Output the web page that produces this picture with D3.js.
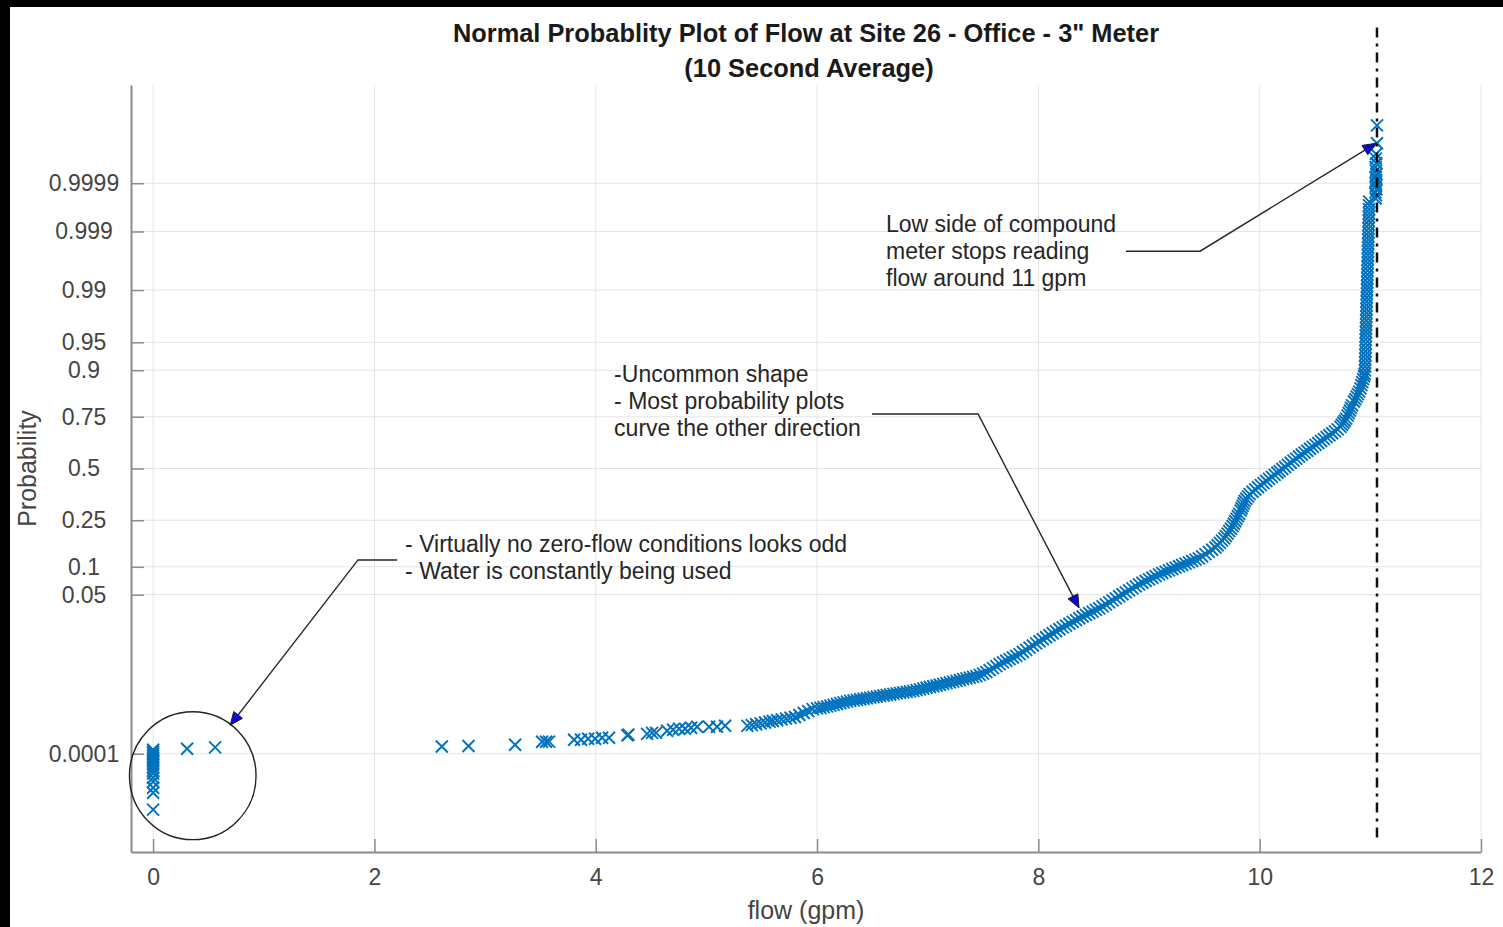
<!DOCTYPE html>
<html>
<head>
<meta charset="utf-8">
<script src="https://cdn.jsdelivr.net/npm/d3@7"></script>
<style>
  html, body { margin: 0; padding: 0; background: #000; }
  svg { display: block; }
  text { font-family: "Liberation Sans", Arial, Helvetica, sans-serif; }
</style>
</head>
<body>
<svg id="chart" width="1503" height="927"></svg>
<script>
// ---------------------------------------------------------------------------
// Flow samples, 10 second averages, site 26 office 3" meter.
// Each point is [flow (gpm), standard normal quantile of its plotting position].
// ---------------------------------------------------------------------------

// Readings sitting at zero flow (normal quantiles only, flow = 0)
const zeroFlowQuantiles = [-3.667, -3.693, -3.719, -3.745, -3.771, -3.797, -3.823, -3.862,
  -3.901, -3.940, -3.979, -4.032, -4.084, -4.162, -4.227, -4.448];

// Sparse lower tail
const lowTail = [
  [0.307, -3.654], [0.560, -3.635],
  [2.609, -3.624], [2.850, -3.618], [3.271, -3.602], [3.515, -3.563], [3.551, -3.563], [3.578, -3.560],
  [3.804, -3.537], [3.867, -3.537], [3.931, -3.524], [3.994, -3.524], [4.057, -3.510], [4.120, -3.510],
  [4.286, -3.478], [4.296, -3.470], [4.464, -3.459], [4.509, -3.446], [4.545, -3.446],
  [4.645, -3.419], [4.699, -3.406], [4.753, -3.393], [4.807, -3.393], [4.861, -3.380], [4.916, -3.367],
  [5.024, -3.367], [5.096, -3.367], [5.169, -3.354]
];

// Gently rising section, 5.4 - 7.5 gpm
const midRange = [
  [5.37, -3.356], [5.41, -3.345], [5.45, -3.334], [5.49, -3.323], [5.53, -3.312], [5.57, -3.300],
  [5.60, -3.292], [5.64, -3.282], [5.68, -3.271], [5.72, -3.261], [5.76, -3.250], [5.80, -3.240],
  [5.84, -3.214], [5.88, -3.188], [5.92, -3.163], [5.96, -3.137], [6.00, -3.128],
  [6.03, -3.121], [6.06, -3.111], [6.09, -3.101], [6.12, -3.091], [6.15, -3.081], [6.18, -3.070],
  [6.21, -3.060], [6.24, -3.050], [6.27, -3.040], [6.30, -3.030], [6.33, -3.023], [6.36, -3.016],
  [6.39, -3.009], [6.42, -3.002], [6.45, -2.995], [6.48, -2.988], [6.51, -2.981], [6.54, -2.974],
  [6.57, -2.967], [6.60, -2.960], [6.63, -2.953], [6.66, -2.946], [6.69, -2.939], [6.72, -2.932],
  [6.75, -2.925], [6.78, -2.919], [6.81, -2.912], [6.84, -2.906], [6.87, -2.899], [6.90, -2.889],
  [6.93, -2.879], [6.96, -2.869], [6.99, -2.859], [7.02, -2.849], [7.05, -2.839], [7.08, -2.829],
  [7.11, -2.819], [7.14, -2.809], [7.17, -2.798], [7.20, -2.788], [7.23, -2.778], [7.26, -2.768],
  [7.29, -2.757], [7.32, -2.747], [7.35, -2.737], [7.38, -2.727], [7.41, -2.716], [7.44, -2.706],
  [7.47, -2.691], [7.50, -2.675]
];

// Steeper section, 7.5 - 10 gpm
const upperRange = [
  [7.53, -2.654], [7.56, -2.628], [7.59, -2.602], [7.62, -2.576], [7.65, -2.550], [7.68, -2.528],
  [7.71, -2.507], [7.74, -2.485], [7.77, -2.464], [7.80, -2.442], [7.83, -2.420], [7.86, -2.393],
  [7.89, -2.365], [7.92, -2.336], [7.95, -2.308], [7.98, -2.280], [8.01, -2.252], [8.04, -2.226],
  [8.07, -2.200], [8.10, -2.174], [8.13, -2.148], [8.16, -2.122], [8.19, -2.096], [8.22, -2.072],
  [8.25, -2.048], [8.28, -2.024], [8.31, -2.000], [8.34, -1.976], [8.37, -1.952], [8.40, -1.930],
  [8.43, -1.909], [8.46, -1.887], [8.49, -1.866], [8.52, -1.844], [8.55, -1.823], [8.58, -1.797],
  [8.61, -1.771], [8.64, -1.745], [8.67, -1.719], [8.70, -1.693], [8.73, -1.666], [8.76, -1.640],
  [8.79, -1.615], [8.82, -1.589], [8.85, -1.563], [8.88, -1.537], [8.91, -1.511], [8.94, -1.489],
  [8.97, -1.467], [9.00, -1.446], [9.03, -1.424], [9.06, -1.403], [9.09, -1.381], [9.12, -1.363],
  [9.15, -1.345], [9.18, -1.328], [9.21, -1.310], [9.24, -1.293], [9.27, -1.275], [9.30, -1.258],
  [9.33, -1.241], [9.36, -1.223], [9.39, -1.206], [9.42, -1.189], [9.45, -1.172], [9.48, -1.146],
  [9.51, -1.117], [9.54, -1.088], [9.57, -1.059], [9.60, -1.030], [9.62, -1.001], [9.64, -0.969],
  [9.66, -0.941], [9.68, -0.912], [9.695, -0.882], [9.71, -0.850], [9.725, -0.817], [9.74, -0.785],
  [9.755, -0.752], [9.767, -0.720], [9.779, -0.688], [9.791, -0.656], [9.803, -0.623], [9.815, -0.591],
  [9.828, -0.549], [9.837, -0.518], [9.846, -0.487], [9.855, -0.455], [9.864, -0.424], [9.879, -0.394],
  [9.894, -0.364], [9.909, -0.334], [9.935, -0.303], [9.96, -0.274], [9.985, -0.245]
];

// High-flow section, 10 - 11 gpm
const highRange = [
  [10.01, -0.217], [10.035, -0.190], [10.06, -0.163], [10.085, -0.136], [10.11, -0.110], [10.135, -0.083],
  [10.16, -0.056], [10.18, -0.034], [10.205, -0.007], [10.23, 0.020], [10.255, 0.047], [10.28, 0.075],
  [10.305, 0.102], [10.33, 0.129], [10.355, 0.156], [10.38, 0.182], [10.405, 0.207], [10.43, 0.232],
  [10.455, 0.257], [10.48, 0.282], [10.505, 0.307], [10.53, 0.332], [10.555, 0.358], [10.58, 0.383],
  [10.605, 0.409], [10.63, 0.434], [10.655, 0.459], [10.68, 0.485], [10.705, 0.510], [10.73, 0.542],
  [10.743, 0.569], [10.756, 0.596], [10.769, 0.623], [10.782, 0.650], [10.795, 0.689], [10.805, 0.722],
  [10.815, 0.756], [10.825, 0.790], [10.835, 0.824], [10.852, 0.873], [10.864, 0.905], [10.876, 0.938],
  [10.888, 0.970], [10.900, 1.002], [10.911, 1.045], [10.919, 1.088], [10.927, 1.126], [10.935, 1.165],
  [10.943, 1.203], [10.949, 1.232]
];

// Readings piling up at the meter's low-side limit
const limitRange = [
  [10.951, 1.28], [10.952, 1.33], [10.953, 1.38], [10.954, 1.43], [10.955, 1.48], [10.956, 1.53],
  [10.957, 1.58], [10.958, 1.63], [10.958, 1.68], [10.959, 1.73], [10.960, 1.78], [10.961, 1.83],
  [10.962, 1.88], [10.963, 1.93], [10.964, 1.98], [10.965, 2.03], [10.965, 2.08], [10.966, 2.13],
  [10.967, 2.18], [10.968, 2.23], [10.969, 2.28], [10.970, 2.33], [10.971, 2.38], [10.972, 2.43],
  [10.972, 2.48], [10.973, 2.53], [10.974, 2.58], [10.975, 2.63], [10.976, 2.68], [10.977, 2.73],
  [10.978, 2.78], [10.979, 2.83], [10.979, 2.88], [10.980, 2.93], [10.981, 2.98], [10.982, 3.03],
  [10.983, 3.08], [10.984, 3.13], [10.985, 3.18], [10.986, 3.23], [10.986, 3.28], [10.987, 3.33],
  [10.988, 3.38], [10.989, 3.43], [10.990, 3.48],
  [11.048, 3.52], [11.052, 3.56], [11.046, 3.60], [11.055, 3.64], [11.050, 3.68], [11.047, 3.72],
  [11.053, 3.76], [11.049, 3.80], [11.056, 3.84], [11.051, 3.88], [11.048, 3.93], [11.054, 3.98],
  [11.050, 4.04], [11.052, 4.10], [11.060, 4.24], [11.060, 4.474]
];

// Axis ticks
const probTicks = [0.0001, 0.05, 0.1, 0.25, 0.5, 0.75, 0.9, 0.95, 0.99, 0.999, 0.9999];
const probTickLabels = ["0.0001", "0.05", "0.1", "0.25", "0.5", "0.75", "0.9", "0.95", "0.99", "0.999", "0.9999"];
const flowTicks = [0, 2, 4, 6, 8, 10, 12];
const flowTickLabels = ["0", "2", "4", "6", "8", "10", "12"];

// Meter cut-off reference line (gpm)
const meterLimitFlow = 11.06;

// Annotations: text lines and leader paths in [flow, normal quantile]
const notes = [
  { lines: ["- Virtually no zero-flow conditions looks odd", "- Water is constantly being used"],
    at: [2.277, -1.088], leader: [[2.205, -1.192], [1.852, -1.192], [0.696, -3.347]] },
  { lines: ["-Uncommon shape", "- Most probability plots", "curve the other direction"],
    at: [4.166, 1.127], leader: [[6.497, 0.710], [7.455, 0.710], [8.367, -1.817]] },
  { lines: ["Low side of compound", "meter stops reading", "flow around 11 gpm"],
    at: [6.623, 3.081], leader: [[8.792, 2.833], [9.461, 2.833], [11.051, 4.240]] }
];
// Ring round the zero-flow readings: centre [flow, quantile], radii in the same units
const zeroRing = { centre: [0.358, -4.005], rx: 0.572, ry: 0.834 };

// ---------------------------------------------------------------------------
// Inverse standard normal CDF (Acklam's rational approximation)
function probit(p) {
  const a = [-3.969683028665376e+01, 2.209460984245205e+02, -2.759285104469687e+02,
             1.383577518672690e+02, -3.066479806614716e+01, 2.506628277459239e+00];
  const b = [-5.447609879822406e+01, 1.615858368580409e+02, -1.556989798598866e+02,
             6.680131188771972e+01, -1.328068155922803e+01];
  const c = [-7.784894002430293e-03, -3.223964580411365e-01, -2.400758277161838e+00,
             -2.549732539343734e+00, 4.374664141464968e+00, 2.938163982698783e+00];
  const d = [7.784695709041462e-03, 3.224671290700398e-01, 2.445134137142996e+00,
             3.754408661907416e+00];
  const pl = 0.02425, ph = 1 - pl;
  let q, r;
  if (p < pl) {
    q = Math.sqrt(-2 * Math.log(p));
    return (((((c[0]*q + c[1])*q + c[2])*q + c[3])*q + c[4])*q + c[5]) /
           ((((d[0]*q + d[1])*q + d[2])*q + d[3])*q + 1);
  }
  if (p > ph) {
    q = Math.sqrt(-2 * Math.log(1 - p));
    return -(((((c[0]*q + c[1])*q + c[2])*q + c[3])*q + c[4])*q + c[5]) /
            ((((d[0]*q + d[1])*q + d[2])*q + d[3])*q + 1);
  }
  q = p - 0.5; r = q * q;
  return (((((a[0]*r + a[1])*r + a[2])*r + a[3])*r + a[4])*r + a[5])*q /
         (((((b[0]*r + b[1])*r + b[2])*r + b[3])*r + b[4])*r + 1);
}

// ---------------------------------------------------------------------------
const svg = d3.select("#chart");
const W = 1503, H = 927;

// page background with white figure area
svg.append("rect").attr("x", 10).attr("y", 7).attr("width", W - 10).attr("height", H - 7).attr("fill", "#fff");

const plot = { left: 131, right: 1481, top: 85, bottom: 852 };
const x = d3.scaleLinear().domain([-0.2, 12]).range([plot.left, plot.right]);
const y = d3.scaleLinear().domain([-5, 5]).range([plot.bottom, plot.top]);

const probTickPos = probTicks.map(probit);

// grid
const grid = svg.append("g").attr("stroke", "#e4e4e4").attr("stroke-width", 1);
grid.selectAll("line.v").data(flowTicks).join("line")
  .attr("x1", d => x(d)).attr("x2", d => x(d))
  .attr("y1", plot.top).attr("y2", plot.bottom);
grid.selectAll("line.h").data(probTickPos).join("line")
  .attr("x1", plot.left).attr("x2", plot.right)
  .attr("y1", d => y(d)).attr("y2", d => y(d));

// data points ('x' markers)
const points = [
  ...zeroFlowQuantiles.map(q => [0, q]),
  ...lowTail, ...midRange, ...upperRange, ...highRange, ...limitRange
];
const s = 6;
svg.append("g")
  .attr("fill", "none").attr("stroke", "#0072BD").attr("stroke-width", 1.9)
  .selectAll("path").data(points).join("path")
  .attr("d", d => {
    const px = x(d[0]), py = y(d[1]);
    return `M${px - s},${py - s}L${px + s},${py + s}M${px - s},${py + s}L${px + s},${py - s}`;
  });

// axes
const axisColor = "#8c8c8c";
const yAxis = d3.axisLeft(y)
  .tickValues(probTickPos)
  .tickFormat((d, i) => probTickLabels[i])
  .tickSizeInner(-13).tickSizeOuter(0).tickPadding(12);
const gy = svg.append("g").attr("transform", `translate(${plot.left},0)`).call(yAxis);
// probability labels are centred in their column
gy.selectAll(".tick text").attr("text-anchor", "middle").attr("x", -47);

const xAxis = d3.axisBottom(x)
  .tickValues(flowTicks)
  .tickFormat((d, i) => flowTickLabels[i])
  .tickSizeInner(-13).tickSizeOuter(0).tickPadding(17);
const gx = svg.append("g").attr("transform", `translate(0,${plot.bottom})`).call(xAxis);

[gx, gy].forEach(g => {
  g.select(".domain").attr("stroke", axisColor).attr("stroke-width", 2);
  g.selectAll(".tick line").attr("stroke", axisColor).attr("stroke-width", 1.5);
  g.selectAll(".tick text")
    .attr("font-family", "Liberation Sans, Arial, sans-serif")
    .attr("font-size", 23).attr("fill", "#444");
});

// meter limit line (dash-dot)
svg.append("line")
  .attr("x1", x(meterLimitFlow)).attr("x2", x(meterLimitFlow))
  .attr("y1", y(5.75)).attr("y2", y(-4.84))
  .attr("stroke", "#111").attr("stroke-width", 2.5)
  .attr("stroke-dasharray", "10,6,3,6");

// annotations
const ann = svg.append("g");
ann.append("ellipse")
  .attr("cx", x(zeroRing.centre[0])).attr("cy", y(zeroRing.centre[1]))
  .attr("rx", x(zeroRing.rx) - x(0)).attr("ry", y(0) - y(zeroRing.ry))
  .attr("fill", "none").attr("stroke", "#222").attr("stroke-width", 1.4);

notes.forEach(n => {
  const t = ann.append("text")
    .attr("x", x(n.at[0])).attr("y", y(n.at[1]))
    .attr("font-size", 23).attr("fill", "#262626");
  n.lines.forEach((ln, i) => {
    t.append("tspan").attr("x", x(n.at[0])).attr("dy", i === 0 ? 0 : 26.8).text(ln);
  });
  const pts = n.leader.map(p => [x(p[0]), y(p[1])]);
  ann.append("path")
    .attr("d", d3.line()(pts))
    .attr("fill", "none").attr("stroke", "#262626").attr("stroke-width", 1.4);
  // arrow head at last vertex
  const [x0, y0] = pts[pts.length - 2], [x1, y1] = pts[pts.length - 1];
  const ang = Math.atan2(y1 - y0, x1 - x0);
  const L = 13, Wd = 5.5;
  const bx = x1 - L * Math.cos(ang), by = y1 - L * Math.sin(ang);
  const nx = -Math.sin(ang) * Wd, ny = Math.cos(ang) * Wd;
  ann.append("path")
    .attr("d", `M${x1},${y1}L${bx + nx},${by + ny}L${bx - nx},${by - ny}Z`)
    .attr("fill", "#0a0ad8").attr("stroke", "#1a1a1a").attr("stroke-width", 1);
});

// titles and axis labels
const cx = (plot.left + plot.right) / 2;
svg.append("text").attr("x", cx).attr("y", 42).attr("text-anchor", "middle")
  .attr("font-size", 25.4).attr("font-weight", "bold").attr("fill", "#1a1a1a")
  .text('Normal Probablity Plot of Flow at Site 26 - Office - 3" Meter');
svg.append("text").attr("x", cx + 3).attr("y", 77).attr("text-anchor", "middle")
  .attr("font-size", 25.4).attr("font-weight", "bold").attr("fill", "#1a1a1a")
  .text("(10 Second Average)");
svg.append("text").attr("x", cx).attr("y", 919).attr("text-anchor", "middle")
  .attr("font-size", 25).attr("fill", "#444").text("flow (gpm)");
svg.append("text")
  .attr("transform", `translate(36,${(plot.top + plot.bottom) / 2}) rotate(-90)`)
  .attr("text-anchor", "middle")
  .attr("font-size", 25).attr("fill", "#444").text("Probability");
</script>
</body>
</html>
